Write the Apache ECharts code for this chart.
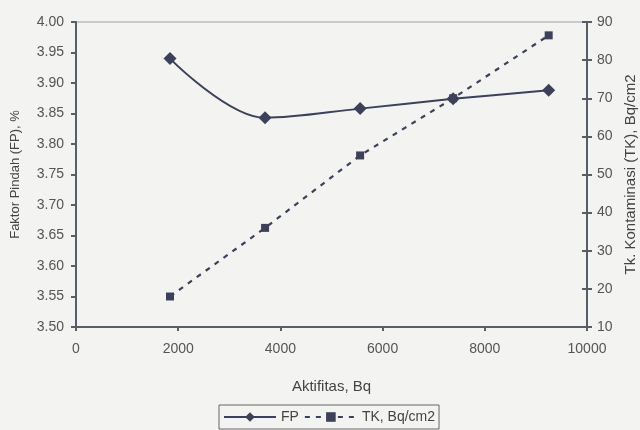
<!DOCTYPE html>
<html>
<head>
<meta charset="utf-8">
<script src="https://cdn.jsdelivr.net/npm/echarts@6/dist/echarts.min.js"></script>
<style>
html,body{margin:0;padding:0;background:#f3f3f1;}
#chart{width:640px;height:430px;}
</style>
</head>
<body>
<div id="chart"></div>
<script>
var activity = [1840, 3700, 5560, 7380, 9250];
var fpValues = [3.940, 3.843, 3.858, 3.874, 3.888];
var tkValues = [18, 36, 55, 70, 86.5];
var fpName = 'FP';
var tkName = 'TK, Bq/cm2';
var xTitle = 'Aktifitas, Bq';
var yLeftTitle = 'Faktor Pindah (FP), %';
var yRightTitle = 'Tk. Kontaminasi (TK), Bq/cm2';

function pairs(xs, ys){ return xs.map(function(x,i){ return [x, ys[i]]; }); }

var axisColor = '#5a5d66';
var lineColor = '#3c4058';
var font = 'Liberation Sans, Arial';
var labelStyle = {color:'#555', fontFamily:font, fontSize:14};

var chart = echarts.init(document.getElementById('chart'));
chart.setOption({
  backgroundColor:'#f3f3f1',
  animation:false,
  grid:{left:76, right:53, top:22, bottom:103, containLabel:false, outerBoundsMode:'none',
        show:true, borderColor:'#a0a2a8', borderWidth:1, backgroundColor:'transparent'},
  legend:{
    top:405, left:219,
    data:[fpName, tkName],
    itemWidth:52, itemHeight:12, itemGap:5,
    borderColor:'#666', borderWidth:1, padding:[5,4,5,4],
    textStyle:{color:'#444', fontFamily:font, fontSize:14}
  },
  xAxis:{
    type:'value', min:0, max:10000, interval:2000,
    name:xTitle, nameLocation:'middle', nameGap:52,
    nameTextStyle:{color:'#444', fontFamily:font, fontSize:15},
    axisLine:{lineStyle:{color:axisColor, width:2}},
    axisTick:{length:4, lineStyle:{color:axisColor, width:2}},
    axisLabel:Object.assign({margin:15, formatter:function(v){return String(v);}}, labelStyle),
    splitLine:{show:false}
  },
  yAxis:[{
    type:'value', position:'left', min:3.5, max:4.0, interval:0.05,
    name:yLeftTitle, nameLocation:'middle', nameGap:54, nameRotate:90,
    nameTextStyle:{color:'#444', fontFamily:font, fontSize:13},
    axisLine:{show:true, lineStyle:{color:axisColor, width:2}},
    axisTick:{show:true, length:5, lineStyle:{color:axisColor, width:2}},
    axisLabel:Object.assign({margin:12, formatter:function(v){return v.toFixed(2);}}, labelStyle),
    splitLine:{show:false}
  },{
    type:'value', position:'right', min:10, max:90, interval:10,
    name:yRightTitle, nameLocation:'middle', nameGap:34, nameRotate:90,
    nameTextStyle:{color:'#444', fontFamily:font, fontSize:15},
    axisLine:{show:true, lineStyle:{color:axisColor, width:2}},
    axisTick:{show:true, length:5, lineStyle:{color:axisColor, width:2}},
    axisLabel:Object.assign({margin:10}, labelStyle),
    splitLine:{show:false}
  },{
    type:'value', position:'right', min:10, max:90, interval:10,
    axisLine:{show:false},
    axisTick:{show:true, inside:true, length:5, lineStyle:{color:axisColor, width:2}},
    axisLabel:{show:false},
    splitLine:{show:false}
  }],
  series:[{
    name:fpName, type:'line', yAxisIndex:0,
    data:pairs(activity, fpValues),
    smooth:0.35,
    symbol:'diamond', symbolSize:13,
    lineStyle:{color:lineColor, width:2},
    itemStyle:{color:lineColor}
  },{
    name:tkName, type:'line', yAxisIndex:1,
    data:pairs(activity, tkValues),
    symbol:'rect', symbolSize:8,
    lineStyle:{color:lineColor, width:2.2, type:[5,6]},
    itemStyle:{color:lineColor}
  }]
});
</script>
</body>
</html>
